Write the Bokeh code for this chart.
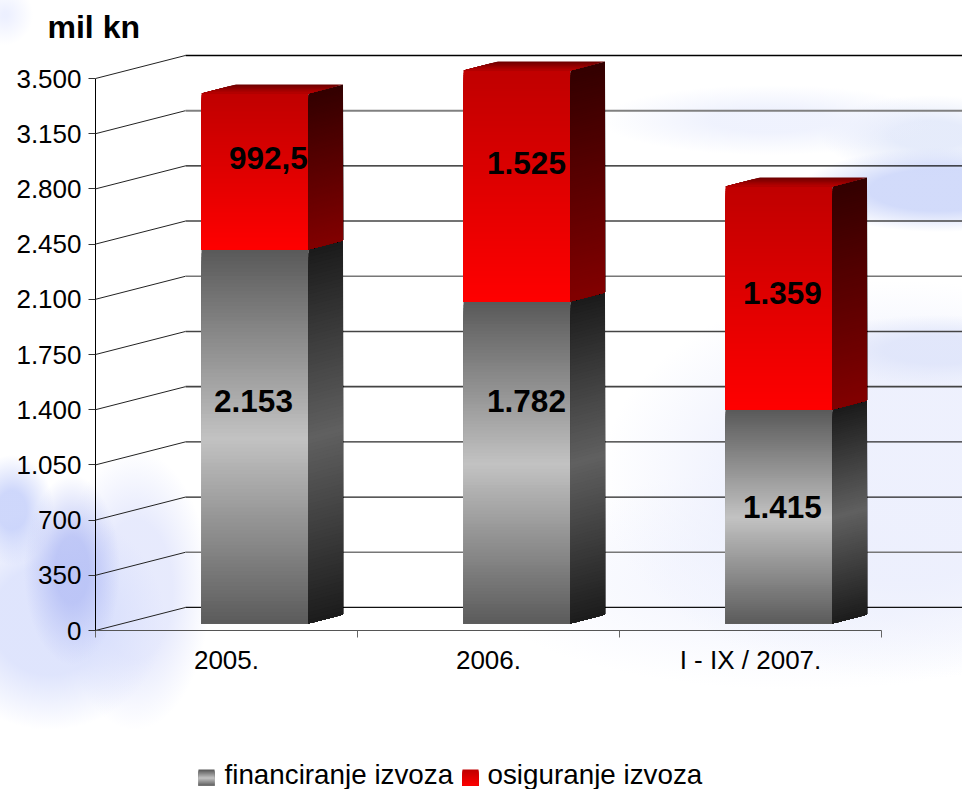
import numpy as np
from bokeh.plotting import figure
from bokeh.layouts import column
from bokeh.embed import file_html
from bokeh.resources import INLINE
from bokeh.core.properties import value
from bokeh.models import FixedTicker, Title

# ---- data ----
categories = ["2005.", "2006.", "I - IX / 2007."]
financiranje = [2372, 2042, 1357]      # drawn heights on the value axis
osiguranje = [989, 1465, 1414]
financiranje_labels = ["2.153", "1.782", "1.415"]
osiguranje_labels = ["992,5", "1.525", "1.359"]
financiranje_label_x = [1.103, 2.145, 3.122]
financiranje_label_y = [1458, 1458, 786]
osiguranje_label_x = [1.160, 2.145, 3.122]
osiguranje_label_y = [2993, 2967, 2137]
y_ticks = [0, 350, 700, 1050, 1400, 1750, 2100, 2450, 2800, 3150, 3500]
y_tick_labels = ["0", "350", "700", "1.050", "1.400", "1.750", "2.100", "2.450", "2.800", "3.150", "3.500"]
legend_names = ["financiranje izvoza", "osiguranje izvoza"]

# ---- layout / 3-D projection ----
WALL_DX, WALL_DY = 0.3435, 146.0       # depth of back wall
BAR_LEFT, BAR_W = -0.0954, 0.4084      # front face, relative to the category
BAR_DX, BAR_DY = 0.1317, 57.0          # depth of a bar
BAR_BASE = 44.0                        # front-face foot above the zero line
STRIPS = 100
GRID_COLORS = ["#111111", "#777777", "#222222", "#2a2a2a", "#444444", "#444444",
               "#777777", "#444444", "#111111", "#808080", "#000000"]
GRID_WIDTHS = [1.2, 1.6, 1.2, 1.2, 1.6, 1.4, 1.6, 1.6, 1.2, 2, 1.4]
FONT = "Liberation Sans"


def lerp(stops, t):
    pos = np.linspace(0, 1, len(stops))
    rgb = [int(round(float(np.interp(t, pos, [s[i] for s in stops])))) for i in range(3)]
    return "#%02x%02x%02x" % tuple(rgb)


FIN_FRONT = [(0x5a, 0x5a, 0x5a), (0xc2, 0xc2, 0xc2), (0x5a, 0x5a, 0x5a)]
FIN_SIDE = [(0x1b, 0x1b, 0x1b), (0x60, 0x60, 0x60), (0x1b, 0x1b, 0x1b)]
OSI_FRONT = [(0xc0, 0, 0), (0xff, 0, 0)]
OSI_SIDE = [(0x33, 0, 0), (0x82, 0, 0)]
OSI_TOP = [(0x6e, 0, 0), (0xc0, 0, 0)]

p = figure(width=962, height=745, frame_width=867, frame_height=580,
           x_range=(0.5, 0.5 + 867 / 262), y_range=(0, 580 / (552 / 3500)),
           output_backend="svg", toolbar_location=None,
           min_border_left=95, min_border_right=0, min_border_top=50, min_border_bottom=115,
           border_fill_color=None, background_fill_color=None, outline_line_color=None)
p.grid.visible = False

p.title = Title(text="mil kn", align="left", offset=-48, standoff=12,
                text_font=FONT, text_font_size="32px", text_font_style="bold", text_color="#000000")

# axes
xa, ya = p.xaxis[0], p.yaxis[0]
ya.ticker = FixedTicker(ticks=y_ticks)
ya.major_label_overrides = {t: s for t, s in zip(y_ticks, y_tick_labels)}
ya.bounds = (0, 3500)
ya.axis_line_color = "#000000"
ya.major_tick_line_color = "#333333"
ya.major_tick_in = 0
ya.major_tick_out = 7
ya.minor_tick_line_color = None
ya.major_label_standoff = 7
ya.major_label_text_font = FONT
ya.major_label_text_font_size = "26px"
ya.major_label_text_color = "#000000"

xa.ticker = FixedTicker(ticks=[1, 2, 3], minor_ticks=[0.5, 1.5, 2.5, 3.5])
xa.major_label_overrides = {i + 1: s for i, s in enumerate(categories)}
xa.bounds = (0.5, 3.5)
xa.axis_line_color = "#555555"
xa.major_tick_line_color = None
xa.major_tick_out = 0
xa.major_tick_in = 0
xa.minor_tick_line_color = "#666666"
xa.minor_tick_out = 7
xa.minor_tick_in = 0
xa.major_label_standoff = 7
xa.major_label_text_font = FONT
xa.major_label_text_font_size = "26px"
xa.major_label_text_color = "#000000"

# back wall gridlines and their slanted feet
ticks = np.array(y_ticks, dtype=float)
p.segment(x0=np.full(len(ticks), 0.5), y0=ticks, x1=np.full(len(ticks), 0.5 + WALL_DX), y1=ticks + WALL_DY,
          line_color="#222222", line_width=1)
p.segment(x0=np.full(len(ticks), 0.5 + WALL_DX), y0=ticks + WALL_DY,
          x1=np.full(len(ticks), 5.0), y1=ticks + WALL_DY,
          line_color=GRID_COLORS, line_width=GRID_WIDTHS)


def vertical_block(x0, y0, y1, front_stops, side_stops):
    """front face and right side of one stacked block, drawn as strips from top to bottom"""
    t = np.linspace(0, 1, STRIPS, endpoint=False)
    ys = y1 + (y0 - y1) * t
    p.quad(left=[x0] * STRIPS, right=[x0 + BAR_W] * STRIPS, top=ys, bottom=[y0] * STRIPS,
           fill_color=[lerp(front_stops, v) for v in t], line_color=None)
    xa_ = x0 + BAR_W
    xb_ = xa_ + BAR_DX
    p.patches(xs=[[xa_, xb_, xb_, xa_] for _ in t],
              ys=[[y, y + BAR_DY, y0 + BAR_DY, y0] for y in ys],
              fill_color=[lerp(side_stops, v) for v in t], line_color=None)


for i in range(3):
    c = i + 1
    left = c + BAR_LEFT
    b0 = BAR_BASE
    b1 = b0 + financiranje[i]
    b2 = b1 + osiguranje[i]
    vertical_block(left, b0, b1, FIN_FRONT, FIN_SIDE)
    vertical_block(left, b1, b2, OSI_FRONT, OSI_SIDE)
    # top face: strips from back to front
    t = np.linspace(0, 1, 12, endpoint=False)
    p.patches(xs=[[left + BAR_DX * (1 - v), left + BAR_DX * (1 - v) + BAR_W, left + BAR_W, left] for v in t],
              ys=[[b2 + BAR_DY * (1 - v), b2 + BAR_DY * (1 - v), b2, b2] for v in t],
              fill_color=[lerp(OSI_TOP, v) for v in t], line_color=None)

# value labels
for xs, ys, txt in ((financiranje_label_x, financiranje_label_y, financiranje_labels),
                    (osiguranje_label_x, osiguranje_label_y, osiguranje_labels)):
    p.text(x=xs, y=ys, text=txt, text_align="center", text_baseline="middle",
           text_font=value(FONT), text_font_size="31.5px", text_font_style="bold", text_color="#000000")

# legend strip: its own small figure, in pixel units, so the swatches can carry their gradients
lg = figure(width=962, height=44, frame_width=867, frame_height=44,
            x_range=(95, 962), y_range=(44, 0),
            output_backend="svg", toolbar_location=None,
            min_border_left=95, min_border_right=0, min_border_top=0, min_border_bottom=0,
            border_fill_color=None, background_fill_color=None, outline_line_color=None)
lg.axis.visible = False
lg.grid.visible = False
SWATCH_STRIPS = 16
for name, x0, x_text, stops in ((legend_names[0], 198, 224, FIN_FRONT), (legend_names[1], 462, 487, OSI_FRONT)):
    t = np.linspace(0, 1, SWATCH_STRIPS, endpoint=False)
    tops = 24 + 16 * t
    lg.quad(left=[x0] * SWATCH_STRIPS, right=[x0 + 16] * SWATCH_STRIPS, top=tops, bottom=[40] * SWATCH_STRIPS,
            fill_color=[lerp(stops, v) for v in t], line_color=None)
    lg.text(x=[x_text], y=[29], text=[name], text_align="left", text_baseline="middle",
            text_font=value(FONT), text_font_size="27.8px", text_color="#000000")


def blob(w, h, x, y, r, g, b, a, plateau=35):
    return ("radial-gradient(ellipse %dpx %dpx at %dpx %dpx, rgba(%d,%d,%d,%.2f) %d%%, rgba(%d,%d,%d,0) 100%%)"
            % (w, h, x, y, r, g, b, a, plateau, r, g, b))


blobs = [
    blob(28, 30, 5, 15, 232, 236, 255, .8, 10),
    blob(48, 95, 72, 570, 180, 190, 245, .8),
    blob(42, 55, 12, 510, 190, 202, 250, .75),
    blob(115, 110, 50, 620, 215, 222, 252, .8, 50),
    blob(75, 140, 135, 590, 225, 229, 252, .8, 50),
    blob(140, 42, 940, 190, 205, 215, 250, .9, 50),
    blob(170, 35, 770, 120, 234, 238, 253, .75),
    blob(110, 40, 930, 135, 225, 232, 250, .85),
    blob(140, 35, 940, 350, 222, 228, 250, .85, 40),
    blob(300, 200, 900, 480, 236, 239, 253, .9, 50),
    blob(330, 110, 800, 580, 243, 245, 254, .8, 40),
]
css = ("<style>html{background-color:#ffffff;background-repeat:no-repeat;"
       "background-size:962px 789px;background-image:" + ",".join(blobs) + "}</style>")

html = file_html(column(p, lg, spacing=0), INLINE)
html = html.replace("</head>", css + "</head>", 1)
open("out.html", "w").write(html)
